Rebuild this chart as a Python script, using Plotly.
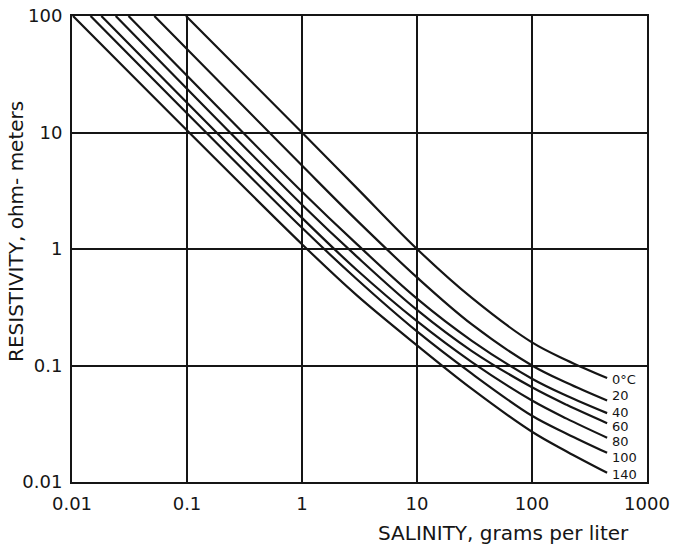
import math
import plotly.graph_objects as go

# Temperature labels for each curve
temperature_labels = ["0°C", "20", "40", "60", "80", "100", "140"]

# Salinity (g/L) and resistivity (ohm-m) points along each isotherm
salinity_0 = [0.098, 1, 3, 10, 30, 100, 200, 450]
resistivity_0 = [100, 10, 3.33, 1.0, 0.38, 0.158, 0.111, 0.078]

salinity_20 = [0.052, 1, 3, 10, 30, 100, 200, 450]
resistivity_20 = [100, 5.2, 1.76, 0.57, 0.225, 0.10, 0.071, 0.050]

salinity_40 = [0.031, 1, 3, 10, 30, 100, 200, 450]
resistivity_40 = [100, 3.1, 1.10, 0.375, 0.163, 0.077, 0.055, 0.039]

salinity_60 = [0.024, 1, 3, 10, 30, 100, 200, 450]
resistivity_60 = [100, 2.4, 0.86, 0.30, 0.133, 0.065, 0.046, 0.032]

salinity_80 = [0.018, 1, 3, 10, 30, 100, 200, 450]
resistivity_80 = [100, 1.85, 0.66, 0.24, 0.107, 0.050, 0.035, 0.024]

salinity_100 = [0.0145, 1, 3, 10, 30, 100, 200, 450]
resistivity_100 = [100, 1.52, 0.55, 0.196, 0.085, 0.037, 0.026, 0.0178]

salinity_140 = [0.0102, 1, 3, 10, 30, 100, 200, 450]
resistivity_140 = [100, 1.1, 0.40, 0.149, 0.063, 0.027, 0.0183, 0.012]

x_ticks = [0.01, 0.1, 1, 10, 100, 1000]
x_tick_text = ["0.01", "0.1", "1", "10", "100", "1000"]
y_ticks = [0.01, 0.1, 1, 10, 100]
y_tick_text = ["0.01", "0.1", "1", "10", "100"]

curves = [
    (salinity_0, resistivity_0),
    (salinity_20, resistivity_20),
    (salinity_40, resistivity_40),
    (salinity_60, resistivity_60),
    (salinity_80, resistivity_80),
    (salinity_100, resistivity_100),
    (salinity_140, resistivity_140),
]

INK = "#151515"
FONT = "DejaVu Sans"

fig = go.Figure()
for (s, r), name in zip(curves, temperature_labels):
    fig.add_trace(go.Scatter(
        x=s, y=r, mode="lines", name=name,
        line=dict(color=INK, width=2.2, shape="spline", smoothing=1.0),
        showlegend=False, hoverinfo="skip",
    ))

# Temperature labels placed just past the end of each curve
# (annotation coordinates on log axes are given as log10 values)
label_yshift = [-1, 5, 1, -3, -4, -5, -2]
annotations = []
for (s, r), name, dy in zip(curves, temperature_labels, label_yshift):
    annotations.append(dict(
        x=math.log10(s[-1]), y=math.log10(r[-1]), xref="x", yref="y",
        text=name, showarrow=False,
        xanchor="left", yanchor="middle", xshift=3, yshift=dy,
        font=dict(family=FONT, size=13, color=INK),
    ))

W, H = 674, 549
L, R, T, B = 72, 27, 16, 67


def px_to_paper(px_x, px_y):
    return (px_x - L) / (W - L - R), (H - px_y - B) / (H - T - B)


# Axis titles
tx, ty = px_to_paper(504, 533)
annotations.append(dict(
    x=tx, y=ty, xref="paper", yref="paper", text="SALINITY, grams per liter",
    xanchor="center", yanchor="middle",
    showarrow=False, font=dict(family=FONT, size=20, color=INK),
))
tx, ty = px_to_paper(16, 232)
annotations.append(dict(
    x=tx, y=ty, xref="paper", yref="paper", text="RESISTIVITY, ohm- meters",
    xanchor="center", yanchor="middle",
    showarrow=False, textangle=-90, font=dict(family=FONT, size=20, color=INK),
))

axis_common = dict(
    type="log", showline=True, mirror=True, linecolor=INK, linewidth=2,
    showgrid=True, gridcolor=INK, gridwidth=2, zeroline=False,
    ticks="outside", tickcolor="rgba(0,0,0,0)",
    tickfont=dict(family=FONT, size=18, color=INK),
)

fig.update_layout(
    width=W, height=H,
    margin=dict(l=L, r=R, t=T, b=B, autoexpand=False),
    paper_bgcolor="white", plot_bgcolor="white",
    xaxis=dict(range=[-2, 3], tickvals=x_ticks, ticktext=x_tick_text,
               ticklen=4, **axis_common),
    yaxis=dict(range=[-2, 2], tickvals=y_ticks, ticktext=y_tick_text,
               ticklen=4, **axis_common),
    annotations=annotations,
)

fig.write_html("out.html")
